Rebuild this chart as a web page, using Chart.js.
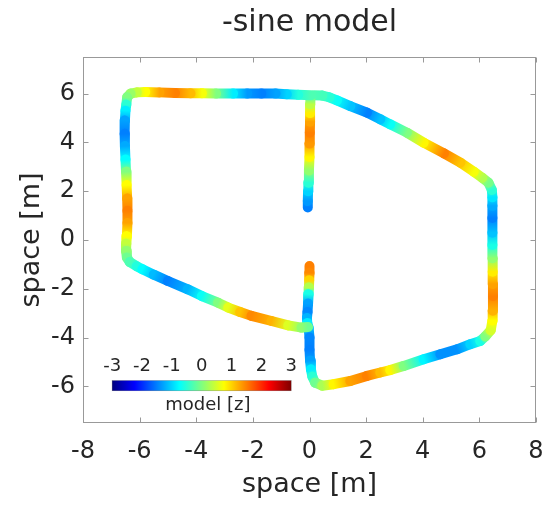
<!DOCTYPE html>
<html>
<head>
<meta charset="utf-8">
<script src="https://cdn.jsdelivr.net/npm/chart.js@4/dist/chart.umd.min.js"></script>
<style>
  html, body { margin: 0; padding: 0; background: #ffffff; }
  canvas { display: block; }
</style>
</head>
<body>
<canvas id="c" width="547" height="505"></canvas>
<script>
// Axis ticks and colour scale
const xTicks = [-8, -6, -4, -2, 0, 2, 4, 6, 8];
const yTicks = [-6, -4, -2, 0, 2, 4, 6];
const barTicks = [-3, -2, -1, 0, 1, 2, 3];
const zMin = -3, zMax = 3;
const titleText = '-sine model';

// Left loop: top edge (right to left), left side, lower-left diagonal
const leftLoopX = [0.05, -0.4, -0.8, -1.2, -1.7, -2.2, -2.7, -3.3, -3.8, -4.2, -4.75, -5.3, -5.8, -6.1, -6.32,
  -6.44, -6.47, -6.5, -6.52, -6.53, -6.52, -6.5, -6.48, -6.46, -6.44, -6.43, -6.43, -6.45, -6.47, -6.48, -6.45,
  -6.35, -6.1, -5.9, -5.5, -5.0, -4.3, -3.8, -3.23, -2.87, -2.45, -2.05, -1.34, -0.75, -0.28, -0.05];
const leftLoopY = [5.93, 5.95, 5.97, 6.0, 6.0, 6.0, 6.0, 6.0, 6.01, 6.01, 6.02, 6.05, 6.07, 6.05, 6.0,
  5.85, 5.55, 5.3, 4.9, 4.35, 3.85, 3.3, 2.8, 2.25, 1.7, 1.2, 0.7, 0.15, -0.15, -0.45, -0.72,
  -0.9, -1.08, -1.2, -1.42, -1.68, -2.02, -2.3, -2.57, -2.77, -2.95, -3.11, -3.32, -3.5, -3.59, -3.57];
const leftLoopZ = [-0.3, -0.55, -1.0, -1.3, -1.5, -1.35, -0.85, 0.0, 0.7, 1.15, 1.5, 1.3, 0.75, 0.4, 0.15,
  0.0, -0.5, -0.85, -1.3, -1.5, -1.25, -0.75, 0.0, 0.75, 1.3, 1.5, 1.3, 0.75, 0.4, 0.1, -0.1,
  -0.3, -0.55, -0.75, -1.15, -1.5, -1.2, -0.7, 0.0, 0.6, 1.1, 1.45, 1.2, 0.55, 0.1, -0.1];

// Upper middle stroke, bottom to top
const midX = [-0.06, -0.06, -0.05, -0.04, -0.02, 0.0, 0.0, 0.01, 0.02, 0.02, 0.02, 0.03];
const midY = [1.33, 1.6, 2.0, 2.35, 2.85, 3.4, 3.95, 4.4, 4.85, 5.2, 5.56, 5.85];
const midZ = [-1.5, -1.35, -1.0, -0.5, 0.1, 0.8, 1.35, 1.5, 1.3, 0.85, 0.35, -0.2];

// Right loop: lower middle stroke, lower-right diagonal, right side, upper-right diagonal
const rightLoopX = [0.0, 0.0, -0.01, -0.02, -0.03, -0.05, -0.07, -0.09, -0.08, -0.03, 0.0, 0.0, 0.02, 0.05, 0.1,
  0.2, 0.45, 0.85, 1.44, 2.03, 2.5, 2.85, 3.33, 4.03, 4.62, 5.21, 5.68, 6.03, 6.21,
  6.4, 6.46, 6.47, 6.48, 6.48, 6.47, 6.47, 6.46, 6.46, 6.46, 6.46, 6.46, 6.44, 6.32,
  6.1, 5.8, 5.33, 4.75, 4.03, 3.44, 2.85, 2.5, 2.03, 1.44, 0.97, 0.7, 0.45, 0.15];
const rightLoopY = [-1.07, -1.35, -1.65, -1.95, -2.22, -2.6, -2.95, -3.2, -3.4, -3.6, -4.0, -4.5, -4.95, -5.3, -5.6,
  -5.85, -5.97, -5.91, -5.78, -5.57, -5.43, -5.33, -5.16, -4.89, -4.68, -4.48, -4.27, -4.14, -3.95,
  -3.7, -3.3, -2.9, -2.3, -1.8, -1.3, -0.75, -0.2, 0.3, 0.9, 1.4, 1.75, 2.05, 2.35,
  2.55, 2.8, 3.17, 3.55, 3.99, 4.4, 4.74, 4.95, 5.22, 5.49, 5.72, 5.85, 5.92, 5.93];
const rightLoopZ = [1.5, 1.45, 1.0, 0.3, -0.6, -1.3, -1.45, -1.2, -0.85, -1.1, -1.45, -1.5, -1.3, -0.85, -0.5,
  -0.1, 0.25, 0.8, 1.3, 1.5, 1.15, 0.8, 0.0, -0.8, -1.4, -1.4, -1.0, -0.6, 0.0,
  0.5, 0.75, 1.2, 1.5, 1.3, 0.85, 0.1, -0.6, -1.1, -1.5, -1.25, -0.9, -0.5, -0.05,
  0.3, 0.7, 1.1, 1.5, 0.8, 0.0, -0.7, -1.1, -1.5, -1.1, -0.7, -0.5, -0.35, -0.3];

const pieces = [
  { x: leftLoopX, y: leftLoopY, z: leftLoopZ },
  { x: midX, y: midY, z: midZ },
  { x: rightLoopX, y: rightLoopY, z: rightLoopZ }
];

const textColor = '#262626';
const axisColor = '#999999';
const fontFamily = '"DejaVu Sans", sans-serif';

// jet colour map over [zMin, zMax]
function jet(v) {
  const t = Math.min(1, Math.max(0, (v - zMin) / (zMax - zMin)));
  const f = u => Math.round(255 * Math.min(1, Math.max(0, 1.5 - Math.abs(4 * t - u))));
  return 'rgb(' + f(3) + ',' + f(2) + ',' + f(1) + ')';
}

// Title centred over the axes, box, inward tick marks and the colour bar
const framePlugin = {
  id: 'frame',
  afterDraw(chart) {
    const { ctx, chartArea: a, scales } = chart;
    const xs = scales.x, ys = scales.y;
    ctx.save();

    ctx.fillStyle = textColor;
    ctx.font = '30px ' + fontFamily;
    ctx.textAlign = 'center';
    ctx.textBaseline = 'middle';
    ctx.fillText(titleText, (a.left + a.right) / 2, 23);

    ctx.strokeStyle = axisColor;
    ctx.lineWidth = 1;
    const L = Math.round(a.left) + 0.5, R = Math.round(a.right) - 0.5;
    const T = Math.round(a.top) + 0.5, B = Math.round(a.bottom) - 0.5;
    ctx.strokeRect(L, T, R - L, B - T);
    const tl = 5;
    ctx.beginPath();
    xTicks.forEach(v => {
      const px = Math.round(xs.getPixelForValue(v)) + 0.5;
      ctx.moveTo(px, B); ctx.lineTo(px, B - tl);
      ctx.moveTo(px, T); ctx.lineTo(px, T + tl);
    });
    yTicks.forEach(v => {
      const py = Math.round(ys.getPixelForValue(v)) + 0.5;
      ctx.moveTo(L, py); ctx.lineTo(L + tl, py);
      ctx.moveTo(R, py); ctx.lineTo(R - tl, py);
    });
    ctx.stroke();

    // colour bar placed inside the axes, lower left
    const W = a.right - a.left, H = a.bottom - a.top;
    const bx0 = a.left + 0.0643 * W, bx1 = a.left + 0.4596 * W;
    const by0 = a.top + 0.884 * H, by1 = a.top + 0.912 * H;
    const g = ctx.createLinearGradient(bx0, 0, bx1, 0);
    for (let i = 0; i <= 64; i++) {
      g.addColorStop(i / 64, jet(zMin + (zMax - zMin) * i / 64));
    }
    ctx.fillStyle = g;
    ctx.fillRect(bx0, by0, bx1 - bx0, by1 - by0);
    ctx.strokeStyle = 'rgba(60,60,60,0.5)';
    ctx.lineWidth = 0.5;
    ctx.strokeRect(bx0, by0, bx1 - bx0, by1 - by0);

    ctx.fillStyle = textColor;
    ctx.font = '18px ' + fontFamily;
    barTicks.forEach(v => {
      const px = bx0 + (v - zMin) / (zMax - zMin) * (bx1 - bx0);
      ctx.fillText(String(v), px, by0 - 14);
    });
    ctx.fillText('model [z]', bx0 + 0.535 * (bx1 - bx0), by1 + 15);
    ctx.restore();
  }
};

const datasets = pieces.map(p => ({
  data: p.x.map((v, i) => ({ x: v, y: p.y[i] })),
  showLine: true,
  pointRadius: 0,
  pointHoverRadius: 0,
  borderWidth: 10,
  borderCapStyle: 'round',
  borderJoinStyle: 'round',
  borderColor: jet(0),
  segment: {
    borderColor: ctx => {
      const zs = pieces[ctx.datasetIndex].z;
      const gr = ctx.chart.ctx.createLinearGradient(ctx.p0.x, ctx.p0.y, ctx.p1.x, ctx.p1.y);
      gr.addColorStop(0, jet(zs[ctx.p0DataIndex]));
      gr.addColorStop(1, jet(zs[ctx.p1DataIndex]));
      return gr;
    },
    // distinct per segment so each piece keeps its own gradient
    borderDashOffset: ctx => ctx.p0DataIndex
  }
}));

new Chart(document.getElementById('c'), {
  type: 'scatter',
  data: { datasets },
  options: {
    responsive: false,
    animation: false,
    devicePixelRatio: 1,
    layout: { padding: { left: 0, right: 11, top: 57, bottom: 0 } },
    plugins: {
      legend: { display: false },
      tooltip: { enabled: false },
      title: { display: false }
    },
    scales: {
      x: {
        type: 'linear',
        min: -8, max: 8,
        afterBuildTicks: s => { s.ticks = xTicks.map(v => ({ value: v })); },
        afterFit: s => { s.height = 82; s.paddingLeft = 0; s.paddingRight = 0; },
        grid: { display: false, drawTicks: false },
        border: { display: false },
        ticks: { color: textColor, padding: 14, font: { family: fontFamily, size: 24 } },
        title: {
          display: true, text: 'space [m]', color: textColor,
          font: { family: fontFamily, size: 27 },
          padding: { top: 0, bottom: 4 }
        }
      },
      y: {
        type: 'linear',
        min: -7.5, max: 7.5,
        afterBuildTicks: s => { s.ticks = yTicks.map(v => ({ value: v })); },
        afterFit: s => { s.width = 83; s.paddingTop = 0; s.paddingBottom = 0; },
        grid: { display: false, drawTicks: false },
        border: { display: false },
        ticks: { color: textColor, padding: 8, font: { family: fontFamily, size: 24 } },
        title: {
          display: true, text: 'space [m]', color: textColor,
          font: { family: fontFamily, size: 27 },
          padding: { top: 16, bottom: 0 }
        }
      }
    }
  },
  plugins: [framePlugin]
});
</script>
</body>
</html>
